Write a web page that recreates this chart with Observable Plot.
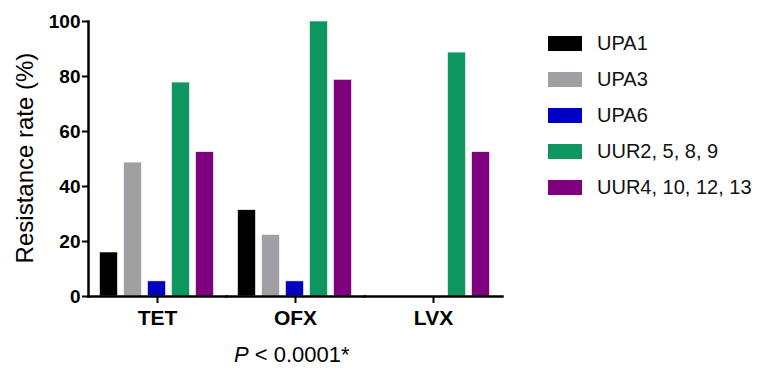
<!DOCTYPE html>
<html><head><meta charset="utf-8">
<script src="https://cdn.jsdelivr.net/npm/d3@7"></script>
<script src="https://cdn.jsdelivr.net/npm/@observablehq/plot@0.6"></script>
<style>
body{margin:0;background:#fff;font-family:"Liberation Sans",Arial,sans-serif;}
#wrap{position:relative;width:771px;height:370px;overflow:hidden;background:#fff}
#wrap svg{position:absolute;left:0;top:0}
.ylab{position:absolute;left:25px;top:158px;transform:translate(-50%,-50%) rotate(-90deg);white-space:nowrap;font-size:24px;color:#000}
.legend{position:absolute;left:548px;top:0;}
.row{position:absolute;left:0;height:20px;display:flex;align-items:center;white-space:nowrap;font-size:20px;color:#111}
.sw{width:34px;height:15px;margin-right:15px;flex:none}
.cap{position:absolute;left:234px;top:342px;font-size:22px;white-space:nowrap;color:#000}
</style></head><body><div id="wrap"></div>
<script>
const drugs = ["TET", "OFX", "LVX"];
const serotypes = ["UPA1", "UPA3", "UPA6", "UUR2, 5, 8, 9", "UUR4, 10, 12, 13"];
const colors = ["#000000", "#a0a0a4", "#0000c4", "#0e9660", "#7e007e"];
// resistance rate (%) per serotype for TET, OFX, LVX
const UPA1 = [16.0, 31.4, 0];
const UPA3 = [48.7, 22.4, 0];
const UPA6 = [5.5, 5.5, 0];
const UUR2589 = [77.8, 100, 88.7];
const UUR4101213 = [52.5, 78.8, 52.5];
const yTicks = [0, 20, 40, 60, 80, 100];
const yLabel = "Resistance rate (%)";

const series = [UPA1, UPA3, UPA6, UUR2589, UUR4101213];
const data = [];
drugs.forEach((d, i) => serotypes.forEach((s, j) => data.push({drug: d, type: s, value: series[j][i]})));

const chart = Plot.plot({
  width: 771, height: 370,
  marginLeft: 87, marginRight: 268, marginTop: 21, marginBottom: 74,
  style: {fontFamily: '"Liberation Sans", Arial, sans-serif', color: "#000", background: "transparent"},
  fx: {domain: drugs, padding: 0},
  x: {domain: serotypes, paddingInner: 0.2, paddingOuter: 0.38, axis: null},
  y: {domain: [0, 100]},
  color: {domain: serotypes, range: colors},
  marks: [
    Plot.barY(data, {fx: "drug", x: "type", y: "value", fill: "type", stroke: "white", strokeWidth: 0.6, insetLeft: 0.5, insetRight: 0.5}),
    Plot.frame({anchor: "bottom", strokeWidth: 2.5, stroke: "#000"}),
    Plot.frame({anchor: "left", strokeWidth: 2.5, stroke: "#000", facetAnchor: "left"}),
    Plot.axisY({ticks: yTicks, tickSize: 6, tickPadding: 2, strokeWidth: 2, fontSize: 19, fontWeight: "bold", label: null}),
    Plot.axisFx({anchor: "bottom", tickSize: 7, tickPadding: 7, strokeWidth: 2, fontSize: 21, fontWeight: "bold", label: null})
  ]
});
const wrap = document.getElementById("wrap");
wrap.appendChild(chart);

const yl = document.createElement("div");
yl.className = "ylab"; yl.textContent = yLabel;
wrap.appendChild(yl);

const leg = document.createElement("div");
leg.className = "legend";
serotypes.forEach((s, i) => {
  const r = document.createElement("div");
  r.className = "row";
  r.style.top = (33 + i * 36) + "px";
  const sw = document.createElement("span");
  sw.className = "sw"; sw.style.background = colors[i];
  r.appendChild(sw);
  r.appendChild(document.createTextNode(s));
  leg.appendChild(r);
});
wrap.appendChild(leg);

const cap = document.createElement("div");
cap.className = "cap";
cap.innerHTML = "<i>P</i> &lt; 0.0001*";
wrap.appendChild(cap);
</script>
</body></html>
